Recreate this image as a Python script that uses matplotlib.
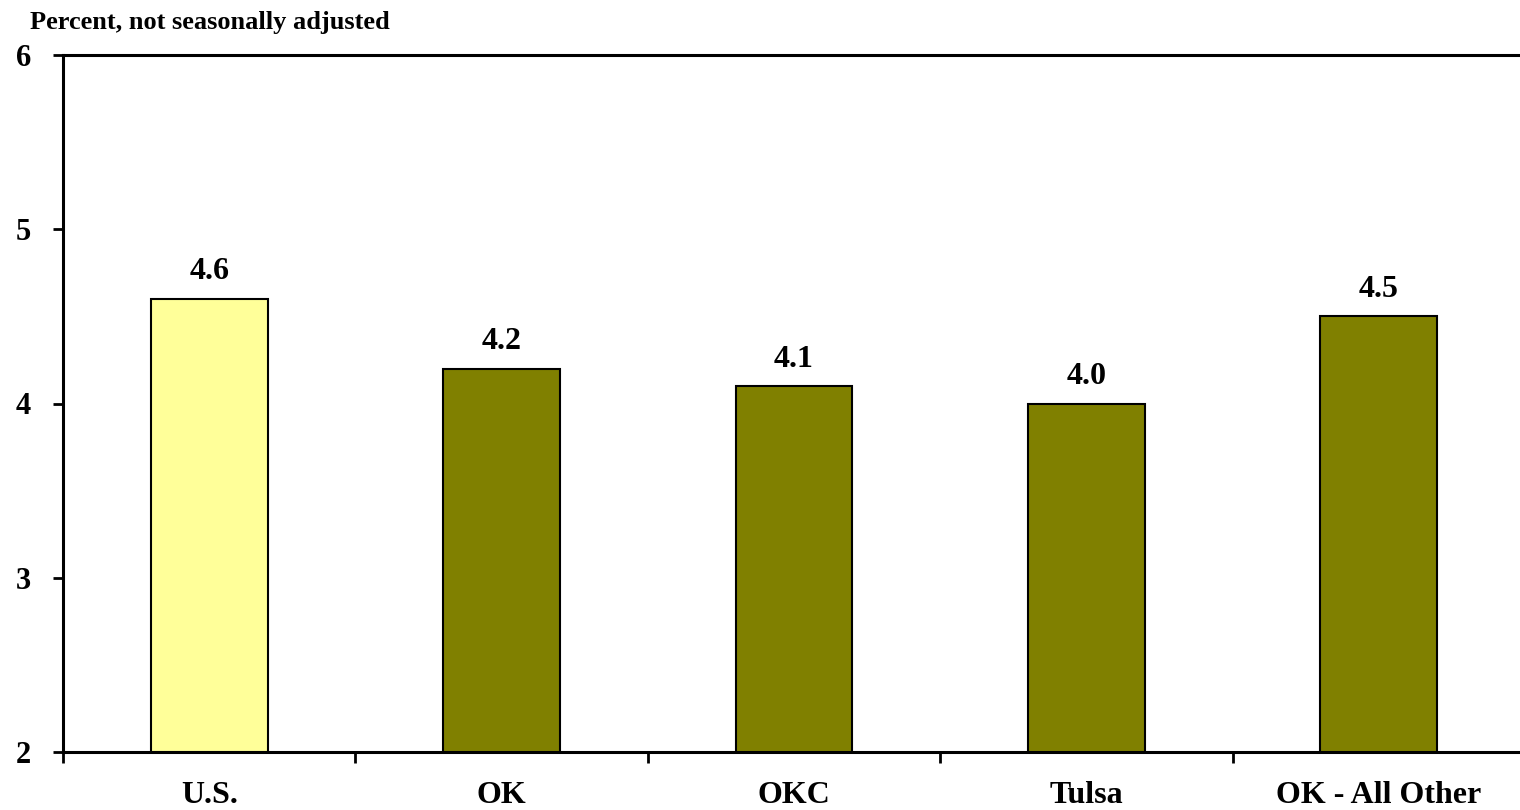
import matplotlib
matplotlib.use('Agg')
import numpy as np
from matplotlib import pyplot as plt

# データ
categories = ['U.S.', 'OK', 'OKC', 'Tulsa', 'OK - All Other']
values = [4.6, 4.2, 4.1, 4.0, 4.5]
bar_colors = ['#FFFF99', '#808000', '#808000', '#808000', '#808000']
y_ticks = [2, 3, 4, 5, 6]

plt.rcParams['font.family'] = ['Liberation Serif', 'DejaVu Serif']
plt.rcParams['font.weight'] = 'bold'

fig = plt.figure(figsize=(15.2, 8.1), dpi=100)
ax = fig.add_axes([63 / 1520, 58 / 810, 1462 / 1520, 697 / 810])

x = np.arange(len(categories))
bars = ax.bar(x, [v - 2 for v in values], bottom=2, width=0.40,
              color=bar_colors, edgecolor='black', linewidth=1.5, zorder=3)

# 値ラベル
for xi, v in zip(x, values):
    ax.annotate(f'{v:.1f}', (xi, v), xytext=(0, 9), textcoords='offset points',
                ha='center', va='bottom', fontsize=23, fontweight='bold')

ax.set_xlim(-0.5, len(categories) - 0.5)
ax.set_ylim(2, 6)
ax.set_yticks(y_ticks)
ax.set_yticklabels([str(t) for t in y_ticks], fontsize=22, fontweight='bold')
ax.set_xticks(x)
ax.set_xticklabels(categories, fontsize=23, fontweight='bold')
ax.set_xticks(np.arange(len(categories) + 1) - 0.5, minor=True)

ax.tick_params(axis='x', which='major', length=0, pad=21)
ax.tick_params(axis='x', which='minor', length=8, width=2, direction='out')
ax.tick_params(axis='y', which='major', length=7, width=2, direction='out', pad=16)

for side in ['left', 'bottom', 'top', 'right']:
    ax.spines[side].set_linewidth(2.2)

fig.text(30 / 1520, 1 - 22 / 810, 'Percent, not seasonally adjusted',
         fontsize=19, fontweight='bold', ha='left', va='center')

fig.savefig('out.png', dpi=100)
